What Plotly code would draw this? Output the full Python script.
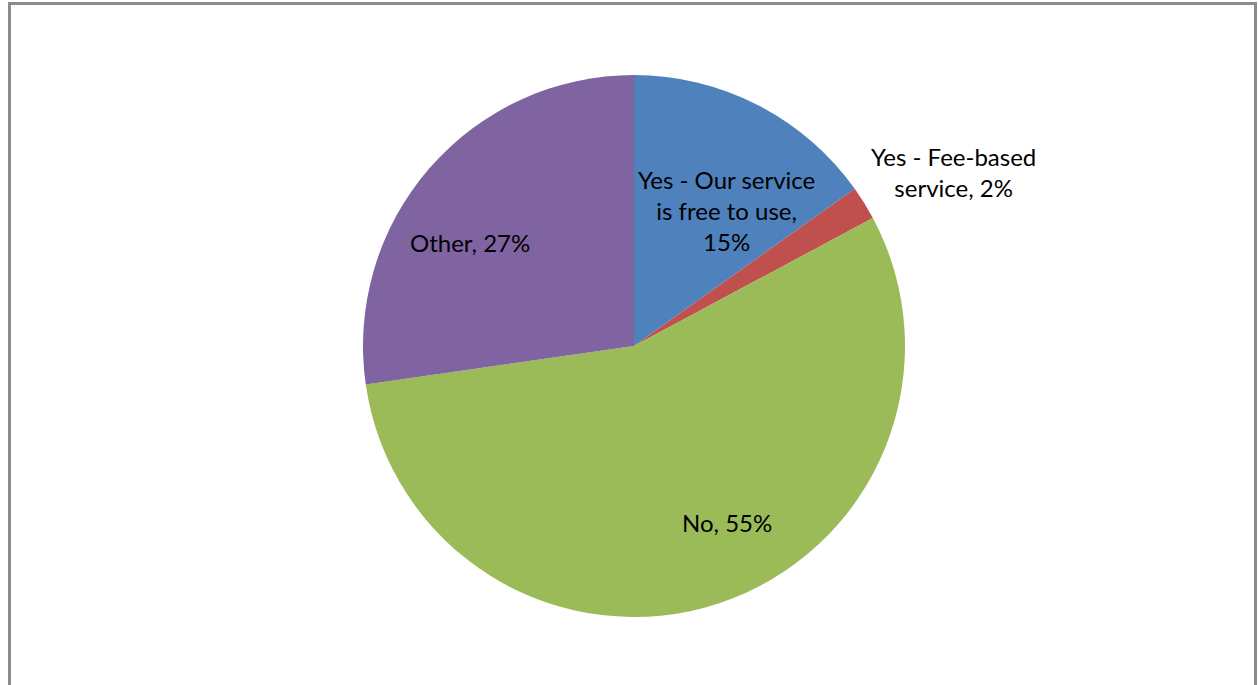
import plotly.graph_objects as go

# Survey responses (percent of respondents)
categories = ["Yes - Our service is free to use", "Yes - Fee-based service", "No", "Other"]
values = [15, 2, 55, 27]
colors = ["#4F81BD", "#C0504D", "#9BBB59", "#8064A2"]

# Label text split over lines, with the percentage appended
label_lines = [
    ["Yes - Our service", "is free to use,", "{v}%"],
    ["Yes - Fee-based", "service, {v}%"],
    ["No, {v}%"],
    ["Other, {v}%"],
]

W, H = 1258, 685

# Label anchor points in pixels (x, y from top)
label_pos = [(726, 210), (953, 172), (727, 522), (470, 242)]

fig = go.Figure(
    go.Pie(
        labels=categories,
        values=values,
        marker=dict(colors=colors, line=dict(width=0)),
        sort=False,
        direction="clockwise",
        rotation=0,
        textinfo="none",
        hoverinfo="label+value",
        showlegend=False,
        domain=dict(x=[363 / W, 905 / W], y=[1 - 617 / H, 1 - 75 / H]),
    )
)

for lines, v, (px, py) in zip(label_lines, values, label_pos):
    fig.add_annotation(
        x=px / W,
        y=1 - py / H,
        xref="paper",
        yref="paper",
        text="<br>".join(l.format(v=v) for l in lines),
        showarrow=False,
        font=dict(family="Lato, Liberation Sans, sans-serif", size=24, color="#000000"),
        align="center",
        xanchor="center",
        yanchor="middle",
    )

# Chart frame
fig.add_shape(
    type="rect",
    xref="paper",
    yref="paper",
    x0=9.5 / W,
    x1=1255.5 / W,
    y0=-0.02,
    y1=1 - 3.5 / H,
    line=dict(color="#8C8C8C", width=3),
    fillcolor="rgba(0,0,0,0)",
)

fig.update_layout(
    width=W,
    height=H,
    margin=dict(l=0, r=0, t=0, b=0),
    paper_bgcolor="#FFFFFF",
    plot_bgcolor="#FFFFFF",
)

fig.write_html("out.html")
